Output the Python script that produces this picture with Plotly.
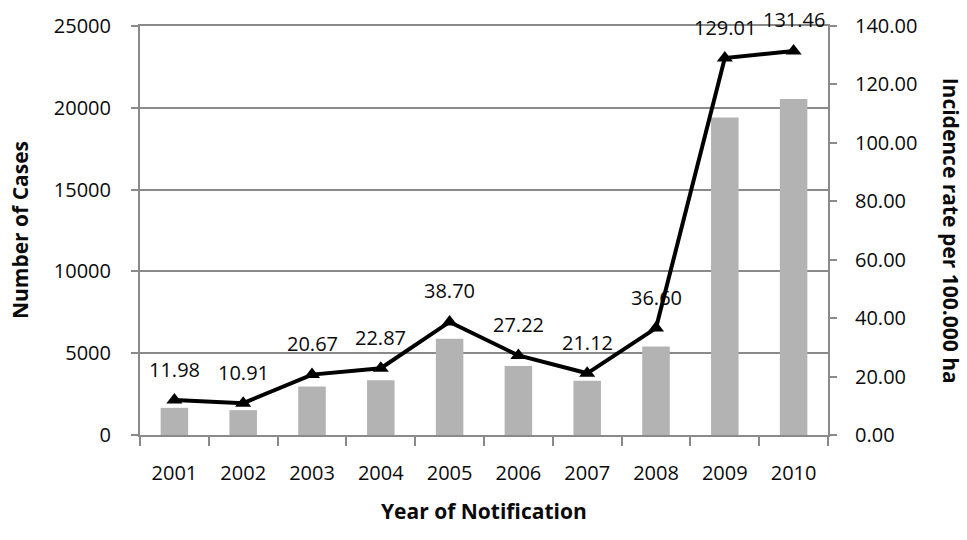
import plotly.graph_objects as go

years = ["2001", "2002", "2003", "2004", "2005", "2006", "2007", "2008", "2009", "2010"]
cases = [1660, 1520, 2970, 3350, 5890, 4220, 3310, 5410, 19400, 20540]
rates = [11.98, 10.91, 20.67, 22.87, 38.70, 27.22, 21.12, 36.60, 129.01, 131.46]
rate_labels = ["11.98", "10.91", "20.67", "22.87", "38.70", "27.22", "21.12", "36.60", "129.01", "131.46"]

FONT = "Open Sans"
GRAY = "#8a8a8a"
TXT = "#0a0a0a"

fig = go.Figure()
fig.add_trace(go.Bar(x=years, y=cases, marker=dict(color="#b3b3b3", line=dict(width=0)),
                     yaxis="y", showlegend=False, hoverinfo="skip"))
fig.add_trace(go.Scatter(x=years, y=rates, yaxis="y2", mode="lines+markers",
                         line=dict(color="black", width=4),
                         marker=dict(symbol="triangle-up", size=14, color="black"),
                         showlegend=False))

for i, (y, t) in enumerate(zip(rates, rate_labels)):
    fig.add_annotation(x=i, y=y, xref="x", yref="y2", text=t, showarrow=False,
                       yshift=31, font=dict(family=FONT, size=20, color=TXT))

fig.add_annotation(text="<b>Number of Cases</b>", xref="paper", yref="paper", x=-0.175, y=0.5,
                   textangle=-90, showarrow=False, font=dict(family=FONT, size=21, color=TXT),
                   xanchor="center", yanchor="middle")
fig.add_annotation(text="<b>Incidence rate per 100.000 ha</b>", xref="paper", yref="paper", x=1.18, y=0.5,
                   textangle=90, showarrow=False, font=dict(family=FONT, size=21, color=TXT),
                   xanchor="center", yanchor="middle")
fig.add_annotation(text="<b>Year of Notification</b>", xref="paper", yref="paper", x=0.5, y=-0.187,
                   showarrow=False, font=dict(family=FONT, size=21, color=TXT),
                   xanchor="center", yanchor="middle")

fig.update_layout(
    width=967, height=540,
    margin=dict(l=140, r=139, t=20, b=105),
    paper_bgcolor="white", plot_bgcolor="white",
    bargap=0.6,
    font=dict(family=FONT, size=20, color=TXT),
    xaxis=dict(type="category", range=[-0.5, len(years) - 0.5], tickson="boundaries", ticks="outside",
               ticklen=9, tickcolor=GRAY, tickwidth=2, showline=True, linecolor=GRAY, linewidth=2,
               mirror=True, showgrid=False, tickangle=0, ticklabelstandoff=19,
               tickfont=dict(family=FONT, size=20, color=TXT)),
    yaxis=dict(range=[0, 25000], dtick=5000, tickformat="d", ticks="outside", ticklen=7, tickcolor=GRAY,
               tickwidth=2, showline=True, linecolor=GRAY, linewidth=2, showgrid=True, gridcolor=GRAY,
               gridwidth=2, zeroline=False, ticklabelstandoff=16,
               tickfont=dict(family=FONT, size=20, color=TXT)),
    yaxis2=dict(range=[0, 140], dtick=20, tickformat=".2f", overlaying="y", side="right",
                ticks="outside", ticklen=7, tickcolor=GRAY, tickwidth=2, showline=True, linecolor=GRAY,
                linewidth=2, showgrid=False, zeroline=False, ticklabelstandoff=14,
                tickfont=dict(family=FONT, size=20, color=TXT)),
)

fig.write_html("out.html")
